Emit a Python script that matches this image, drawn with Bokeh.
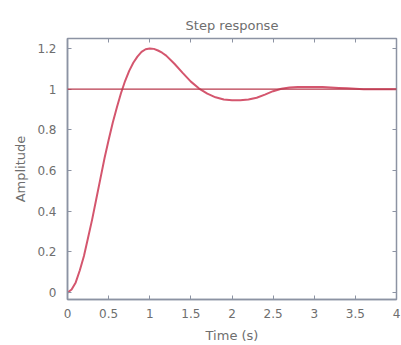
from bokeh.plotting import figure
from bokeh.models import LinearAxis, FixedTicker, Range1d, Span
from bokeh.embed import file_html
from bokeh.resources import INLINE

time_s = [0.0, 0.05, 0.1, 0.15, 0.2, 0.25, 0.3, 0.35, 0.4, 0.45, 0.5, 0.55, 0.6, 0.65, 0.7,
          0.75, 0.8, 0.85, 0.9, 0.95, 1.0, 1.05, 1.1, 1.15, 1.2, 1.3, 1.4, 1.5, 1.6, 1.7, 1.8, 1.9,
          2.0, 2.1, 2.2, 2.3, 2.4, 2.5, 2.6, 2.7, 2.8, 2.9, 3.0, 3.1, 3.2, 3.3, 3.4,
          3.5, 3.6, 3.7, 3.8, 3.9, 4.0]
amplitude = [0.0, 0.015, 0.05, 0.11, 0.18, 0.27, 0.36, 0.46, 0.56, 0.66, 0.75, 0.835, 0.91,
             0.98, 1.04, 1.09, 1.13, 1.16, 1.183, 1.196, 1.20, 1.198, 1.19, 1.179, 1.165, 1.125,
             1.08, 1.037, 1.003, 0.978, 0.96, 0.949, 0.945, 0.945, 0.949, 0.958, 0.973, 0.99,
             1.002, 1.008, 1.01, 1.011, 1.011, 1.01, 1.008, 1.006, 1.004, 1.002, 1.0,
             0.999, 0.999, 0.999, 0.999]
reference_level = 1.0

x_ticks = [0, 0.5, 1, 1.5, 2, 2.5, 3, 3.5, 4]
x_labels = ["0", "0.5", "1", "1.5", "2", "2.5", "3", "3.5", "4"]
y_ticks = [0, 0.2, 0.4, 0.6, 0.8, 1.0, 1.2]
y_labels = ["0", "0.2", "0.4", "0.6", "0.8", "1", "1.2"]

axis_color = "#8c93a3"
label_color = "#6e6e6e"
font = "DejaVu Sans"

p = figure(width=401, height=345, output_backend="svg", toolbar_location=None,
           x_range=Range1d(0, 4), y_range=Range1d(-0.034, 1.249),
           min_border_left=67, min_border_right=5, min_border_top=38, min_border_bottom=44,
           title="Step response")
p.title.align = "center"
p.title.text_font = font
p.title.text_font_size = "13px"
p.title.text_font_style = "normal"
p.title.text_color = label_color
p.title.offset = 0
p.title.standoff = 12

p.grid.visible = False
p.outline_line_color = axis_color
p.outline_line_width = 1.5

for ax, ticks, labels in ((p.xaxis[0], x_ticks, x_labels), (p.yaxis[0], y_ticks, y_labels)):
    ax.ticker = FixedTicker(ticks=ticks)
    ax.major_label_overrides = {t: l for t, l in zip(ticks, labels)}
    ax.major_tick_in = 4
    ax.major_tick_out = 0
    ax.minor_tick_line_color = None
    ax.axis_line_color = axis_color
    ax.axis_line_width = 1.5
    ax.major_tick_line_color = axis_color
    ax.major_label_text_font = font
    ax.major_label_text_font_size = "12px"
    ax.major_label_text_color = label_color
    ax.axis_label_text_font = font
    ax.axis_label_text_font_size = "13px"
    ax.axis_label_text_font_style = "normal"
    ax.axis_label_text_color = label_color

p.xaxis.axis_label = "Time (s)"
p.yaxis.axis_label = "Amplitude"
p.xaxis.major_label_standoff = 9
p.xaxis.axis_label_standoff = 7
p.yaxis.major_label_standoff = 11
p.yaxis.axis_label_standoff = 6

for side, ticks in (("above", x_ticks), ("right", y_ticks)):
    ax = LinearAxis(ticker=FixedTicker(ticks=ticks))
    ax.major_tick_in = 4
    ax.major_tick_out = 0
    ax.minor_tick_line_color = None
    ax.axis_line_color = None
    ax.major_tick_line_color = axis_color
    ax.major_label_text_font_size = "0px"
    ax.major_label_text_color = None
    ax.major_label_standoff = 0
    p.add_layout(ax, side)

p.add_layout(Span(location=reference_level, dimension="width",
                  line_color="#b8394c", line_width=1.2))

p.line(time_s, amplitude, line_color="#d4566e", line_width=2)

open("out.html", "w").write(file_html(p, INLINE))
